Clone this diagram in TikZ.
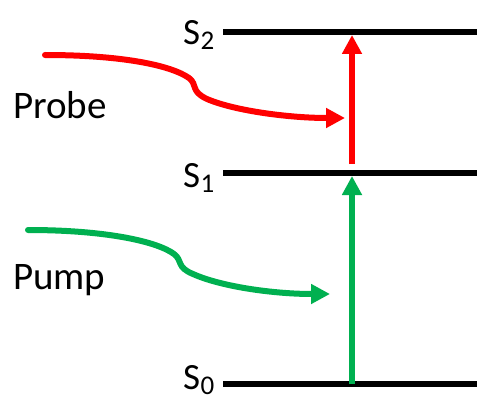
\documentclass[tikz,border=0pt]{standalone}
\usepackage{fontspec}
\setmainfont{Carlito}
\usetikzlibrary{arrows.meta}
\definecolor{probered}{RGB}{255,0,0}
\definecolor{pumpgreen}{RGB}{0,176,80}
\newcommand{\lvl}[1]{\fontsize{37}{40}\selectfont S\kern0.5pt\raisebox{-5pt}{\fontsize{27}{29}\selectfont #1}}
\tikzset{
  level/.style={line width=6pt, black},
  lvllabel/.style={anchor=base west, inner sep=0pt, font=\fontsize{37}{40}\selectfont},
  beamlabel/.style={anchor=base west, inner sep=0pt, font=\fontsize{39}{42}\selectfont},
  transition/.style={line width=6pt, -{Triangle[length=19pt,width=19pt]}},
  beam/.style={line width=6pt, line cap=round, -{Triangle[length=19pt,width=19pt]}},
}
\begin{document}
\begin{tikzpicture}[x=1pt,y=-1pt]
\useasboundingbox (0,0) rectangle (477,396);
% energy levels
\coordinate (s2l) at (223,32);  \coordinate (s2r) at (477,32);
\coordinate (s1l) at (223,173); \coordinate (s1r) at (477,173);
\coordinate (s0l) at (223,384); \coordinate (s0r) at (477,384);
\draw[level] (s2l) -- (s2r);
\draw[level] (s1l) -- (s1r);
\draw[level] (s0l) -- (s0r);
\node[lvllabel] (S2) at (183,45) {\lvl{2}};
\node[lvllabel] (S1) at (183,187) {\lvl{1}};
\node[lvllabel] (S0) at (183,389) {\lvl{0}};
% transitions
\coordinate (r0) at (352,164); \coordinate (r1) at (352,35);
\coordinate (g0) at (352,384); \coordinate (g1) at (352,176);
\draw[transition, probered] (r0) -- (r1);
\draw[transition, pumpgreen] (g0) -- (g1);
% beams
\coordinate (pb0) at (45,55); \coordinate (pb1) at (345,118);
\coordinate (pm0) at (28,230); \coordinate (pm1) at (330,294);
\draw[beam, probered] (pb0) .. controls (125,55) and (172,66) .. (189,78)
  .. controls (198,85) and (190,91) .. (207,99)
  .. controls (235,111) and (290,118) .. (pb1);
\draw[beam, pumpgreen] (pm0) .. controls (108,230) and (158,242) .. (174,254)
  .. controls (183,261) and (176,267) .. (193,274)
  .. controls (222,287) and (275,294) .. (pm1);
\node[beamlabel] (probe) at (13,118) {Probe};
\node[beamlabel] (pump) at (13,289) {Pump};
\end{tikzpicture}
\end{document}
